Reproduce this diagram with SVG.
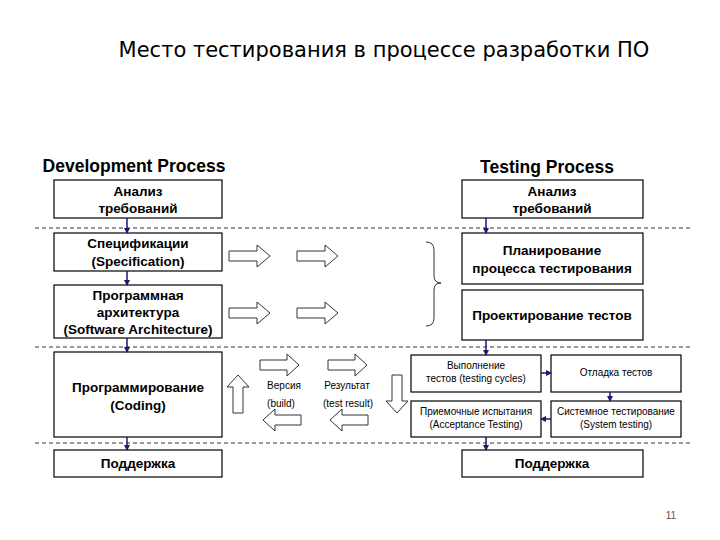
<svg xmlns="http://www.w3.org/2000/svg" width="720" height="540" viewBox="0 0 720 540">
<defs>
<marker id="ah" markerWidth="6" markerHeight="6" refX="5" refY="3" orient="auto" markerUnits="userSpaceOnUse"><path d="M0,0 L6,3 L0,6 z" fill="#1a1a6e"/></marker>
<style>
.box{fill:#fff;stroke:#000;stroke-width:1.2}
.t{font-family:"Liberation Sans",Arial,sans-serif;text-anchor:middle;fill:#000}
.b{font-weight:bold;font-size:13.5px}
.s{font-size:10px}
.dash{stroke:#333;stroke-width:1;stroke-dasharray:4,3}
.con{stroke:#1a1a6e;stroke-width:1.5;fill:none;marker-end:url(#ah)}
.blk{fill:#fff;stroke:#333;stroke-width:1}
</style>
</defs>
<rect width="720" height="540" fill="#fff"/>
<text class="t" x="384" y="57" style="font-family:'DejaVu Sans',Verdana,sans-serif;font-size:21px">Место тестирования в процессе разработки ПО</text>
<text class="t" x="134" y="172" style="font-size:17.5px;font-weight:bold">Development Process</text>
<text class="t" x="547" y="173" style="font-size:17.5px;font-weight:bold">Testing Process</text>
<g id="dashes">
<line class="dash" x1="35" y1="228" x2="690" y2="228"/>
<line class="dash" x1="35" y1="347" x2="690" y2="347"/>
<line class="dash" x1="35" y1="443" x2="690" y2="443"/>
</g>
<g id="d1"><rect class="box" x="54" y="180" width="168" height="38"/><text class="t b" x="138" y="196">Анализ</text><text class="t b" x="138" y="213">требований</text></g>
<g id="d2"><rect class="box" x="54" y="233" width="168" height="38"/><text class="t b" x="138" y="248">Спецификации</text><text class="t b" x="138" y="266">(Specification)</text></g>
<g id="d3"><rect class="box" x="54" y="285" width="168" height="53"/><text class="t b" x="138" y="300">Программная</text><text class="t b" x="138" y="317">архитектура</text><text class="t b" x="138" y="334">(Software Architecture)</text></g>
<g id="d4"><rect class="box" x="54" y="352" width="168" height="85"/><text class="t b" x="138" y="392">Программирование</text><text class="t b" x="138" y="410">(Coding)</text></g>
<g id="d5"><rect class="box" x="54" y="450" width="168" height="27"/><text class="t b" x="138" y="468">Поддержка</text></g>
<g id="t1"><rect class="box" x="462" y="180" width="181" height="38"/><text class="t b" x="552" y="196">Анализ</text><text class="t b" x="552" y="213">требований</text></g>
<g id="t2"><rect class="box" x="462" y="233" width="181" height="51"/><text class="t b" x="552" y="255">Планирование</text><text class="t b" x="552" y="273">процесса тестирования</text></g>
<g id="t3"><rect class="box" x="462" y="290" width="181" height="50"/><text class="t b" x="552" y="320">Проектирование тестов</text></g>
<g id="t4"><rect class="box" x="411" y="355" width="130" height="37"/><text class="t s" x="476" y="369">Выполнение</text><text class="t s" x="476" y="382">тестов (testing cycles)</text></g>
<g id="t5"><rect class="box" x="551" y="355" width="130" height="37"/><text class="t s" x="616" y="376">Отладка тестов</text></g>
<g id="t6"><rect class="box" x="411" y="401" width="130" height="36"/><text class="t s" x="476" y="415">Приемочные испытания</text><text class="t s" x="476" y="428">(Acceptance Testing)</text></g>
<g id="t7"><rect class="box" x="551" y="401" width="130" height="36"/><text class="t s" x="616" y="415">Системное тестирование</text><text class="t s" x="616" y="428">(System testing)</text></g>
<g id="t8"><rect class="box" x="462" y="450" width="181" height="27"/><text class="t b" x="552" y="468">Поддержка</text></g>
<g id="labels">
<text class="t s" x="284" y="389">Версия</text><text class="t s" x="281" y="407">(build)</text>
<text class="t s" x="347" y="389">Результат</text><text class="t s" x="348" y="407">(test result)</text>
<text x="671" y="519" style="font-family:'Liberation Sans',Arial,sans-serif;font-size:10px;fill:#555;text-anchor:middle">11</text>
</g>
<g id="connectors">
<line class="con" x1="127" y1="218" x2="127" y2="233"/>
<line class="con" x1="127" y1="271" x2="127" y2="285"/>
<line class="con" x1="127" y1="338" x2="127" y2="352"/>
<line class="con" x1="127" y1="437" x2="127" y2="450"/>
<line class="con" x1="486" y1="218" x2="486" y2="233"/>
<line class="con" x1="486" y1="340" x2="486" y2="355"/>
<line class="con" x1="486" y1="437" x2="486" y2="450"/>
<line class="con" x1="541" y1="373" x2="551" y2="373"/>
<line class="con" x1="610" y1="392" x2="610" y2="401"/>
<line class="con" x1="551" y1="419" x2="541" y2="419"/>
<path d="M426,242 Q434,242 434,250 L434,276 Q434,283 441,283 Q434,283 434,290 L434,318 Q434,326 426,326" fill="none" stroke="#333" stroke-width="1"/>
<path class="blk" d="M229,251 h28 v-6 l13,11 l-13,11 v-6 h-28 z"/>
<path class="blk" d="M297,251 h28 v-6 l13,11 l-13,11 v-6 h-28 z"/>
<path class="blk" d="M229,308 h28 v-6 l13,11 l-13,11 v-6 h-28 z"/>
<path class="blk" d="M297,308 h28 v-6 l13,11 l-13,11 v-6 h-28 z"/>
<path class="blk" d="M260,360 h27 v-6 l12,11 l-12,11 v-6 h-27 z"/>
<path class="blk" d="M328,360 h27 v-6 l12,11 l-12,11 v-6 h-27 z"/>
<path class="blk" d="M301,415 h-26 v-6 l-12,11 l12,11 v-6 h26 z"/>
<path class="blk" d="M368,415 h-26 v-6 l-12,11 l12,11 v-6 h26 z"/>
<path class="blk" d="M233,413 v-26 h-6 l11,-12 l11,12 h-6 v26 z"/>
<path class="blk" d="M392,375 v26 h-6 l11,12 l11,-12 h-6 v-26 z"/>
</g>
</svg>
